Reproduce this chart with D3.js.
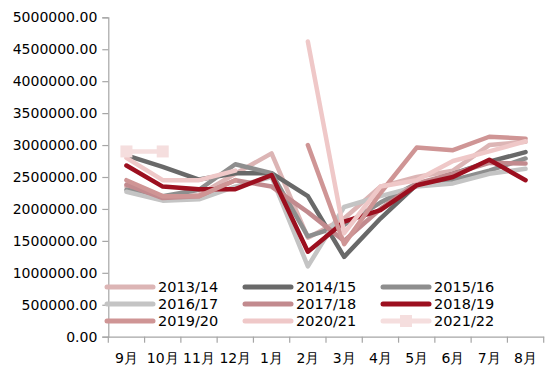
<!DOCTYPE html>
<html><head><meta charset="utf-8">
<script src="https://cdn.jsdelivr.net/npm/d3@7"></script>
<style>body{margin:0;background:#fff}svg{display:block}</style>
</head><body>
<svg id="c" width="550" height="381"></svg>
<script>
const months = ['9月','10月','11月','12月','1月','2月','3月','4月','5月','6月','7月','8月'];
const yTicks = [0,500000,1000000,1500000,2000000,2500000,3000000,3500000,4000000,4500000,5000000];
const seriesNames = ['2013/14','2014/15','2015/16','2016/17','2017/18','2018/19','2019/20','2020/21','2021/22'];
const s2013 = [2350000,2180000,2220000,2550000,2870000,1550000,1850000,2350000,2500000,2600000,3000000,3050000];
const s2014 = [2840000,2660000,2460000,2560000,2560000,2200000,1250000,1850000,2380000,2550000,2740000,2890000];
const s2015 = [2300000,2200000,2300000,2700000,2560000,1570000,1750000,2100000,2400000,2450000,2600000,2790000];
const s2016 = [2270000,2130000,2150000,2350000,2500000,1100000,2030000,2200000,2350000,2400000,2550000,2630000];
const s2017 = [2380000,2170000,2200000,2450000,2350000,1950000,1500000,2000000,2400000,2550000,2720000,2710000];
const s2018 = [2680000,2350000,2310000,2310000,2530000,1330000,1800000,1980000,2370000,2500000,2770000,2450000];
const s2019 = [2450000,2200000,2200000,2450000,null,3000000,1450000,2250000,2960000,2920000,3130000,3100000];
const s2020 = [2800000,2450000,2450000,2600000,null,4620000,1620000,2350000,2450000,2750000,2900000,3060000];
const s2021 = [2900000,2900000,null,null,null,null,null,null,null,null,null,null];
const seriesValues = [s2013,s2014,s2015,s2016,s2017,s2018,s2019,s2020,s2021];
const colors = ['#dcb5b5','#696969','#8e8e8e','#c4c4c4','#c28a8e','#9c0f1f','#cf9595','#efc8c8','#f5dede'];

const svg = d3.select('#c');
const font = 'DejaVu Sans, sans-serif';
const x = d3.scaleBand().domain(months).range([108.3, 543.7]);
const y = d3.scaleLinear().domain([0, 5000000]).range([336.7, 17.3]);
const cx = m => x(m) + x.bandwidth()/2;

// y axis
const ya = svg.append('g').attr('transform','translate(108.3,0)')
  .call(d3.axisLeft(y).tickValues(yTicks).tickFormat(d3.format('.2f')).tickSize(6).tickPadding(5));
ya.select('.domain').attr('stroke','#a6a6a6').attr('stroke-width',1.2);
ya.selectAll('.tick line').attr('stroke','#a6a6a6').attr('stroke-width',1.2);
ya.selectAll('.tick text').attr('font-family',font).attr('font-size',14).attr('fill','#000');

// x axis
const xa = svg.append('g').attr('transform','translate(0,336.7)')
  .call(d3.axisBottom(x).tickSizeOuter(0).tickSize(0).tickPadding(16));
xa.select('.domain').attr('stroke','#a6a6a6').attr('stroke-width',1.2);
xa.selectAll('.tick text').attr('font-family',font).attr('font-size',14).attr('fill','#000');
// tick marks at band boundaries
const bounds = months.map(m => x(m)).concat([x.range()[1]]);
xa.selectAll('line.bt').data(bounds).enter().append('line').attr('class','bt')
  .attr('x1',d=>d).attr('x2',d=>d).attr('y1',0).attr('y2',6)
  .attr('stroke','#a6a6a6').attr('stroke-width',1.2);

// lines
const line = d3.line().defined(d => d.v !== null).x(d => cx(d.m)).y(d => y(d.v));
seriesValues.forEach((vals, i) => {
  const data = vals.map((v, j) => ({m: months[j], v}));
  svg.append('path').datum(data).attr('d', line)
    .attr('fill','none').attr('stroke', colors[i]).attr('stroke-width', 4.5)
    .attr('stroke-linejoin','round').attr('stroke-linecap','round');
  if (i === 8) {
    svg.selectAll('rect.mk').data(data.filter(d => d.v !== null)).enter().append('rect')
      .attr('class','mk').attr('x', d => cx(d.m)-6).attr('y', d => y(d.v)-6)
      .attr('width',12).attr('height',12).attr('fill',colors[i]);
  }
});

// legend
const colX = [107, 245, 383];
const rowY = [287, 304, 321];
seriesNames.forEach((name, i) => {
  const c = i % 3, r = Math.floor(i / 3);
  const g = svg.append('g').attr('transform', `translate(${colX[c]},${rowY[r]})`);
  g.append('line').attr('x1',0).attr('x2',46).attr('y1',0).attr('y2',0)
    .attr('stroke',colors[i]).attr('stroke-width',5).attr('stroke-linecap','round');
  if (i === 8) g.append('rect').attr('x',17).attr('y',-6).attr('width',12).attr('height',12).attr('fill',colors[i]);
  g.append('text').attr('x',51).attr('y',5).attr('font-family',font).attr('font-size',14.5)
    .attr('fill','#000').text(name);
});
</script>
</body></html>
